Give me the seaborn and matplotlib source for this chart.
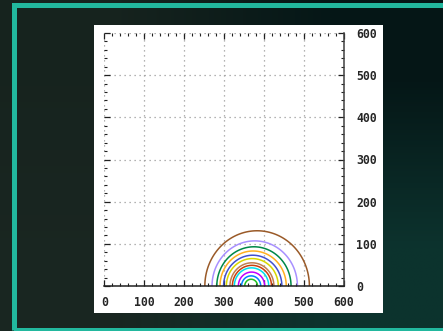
import matplotlib
matplotlib.use("Agg")

import matplotlib.pyplot as plt
import matplotlib.patches as mpatches
from matplotlib.ticker import MultipleLocator
import seaborn as sns
import pandas as pd
import numpy as np

# contour arcs, inner to outer: centre on the x axis, radius, colour
arc_centers = [368, 368, 369, 369, 370, 370, 371, 372, 373, 375, 377, 383]
arc_radii = [16, 24, 33, 43, 49, 55, 65, 73, 83, 93, 107, 131]
arc_colors = ["#20c020", "#0080ff", "#c000ff", "#00e0ee", "#c84010", "#c08050",
              "#d8d800", "#4050d0", "#ffb020", "#008848", "#a890ff", "#9a5a28"]
x_ticks = [0, 100, 200, 300, 400, 500, 600]
y_ticks = [0, 100, 200, 300, 400, 500, 600]

sns.set_style("white")
plt.rcParams["font.family"] = ["DejaVu Sans Mono", "DejaVu Sans"]

fig = plt.figure(figsize=(4.43, 3.31), dpi=100)

# dark backdrop with a soft gradient
bg = fig.add_axes([0, 0, 1, 1])
grad = np.array([[[0.09, 0.14, 0.12], [0.02, 0.09, 0.09]],
                 [[0.10, 0.15, 0.13], [0.05, 0.20, 0.18]]])
bg.imshow(grad, aspect="auto", interpolation="bilinear", extent=[0, 1, 0, 1])
bg.set_xlim(0, 1)
bg.set_ylim(0, 1)
bg.set_axis_off()

# teal frame
bg.add_patch(mpatches.Rectangle((13.5 / 443, 1.5 / 331), 1.2, 1 - 6 / 331,
                                fill=False, edgecolor="#22b89e", linewidth=3.6,
                                clip_on=False))
# white card behind the plot
bg.add_patch(mpatches.Rectangle((94 / 443, 1 - 313 / 331), 289 / 443, 288 / 331,
                                facecolor="white", edgecolor="none"))

ax = fig.add_axes([104.3 / 443, 1 - 286 / 331, 239.4 / 443, 253 / 331])
ax.set_facecolor("white")

rows = []
theta = np.linspace(0, np.pi, 90)
for i, (cx, r) in enumerate(zip(arc_centers, arc_radii)):
    for t in theta:
        rows.append({"arc": i, "x": cx + r * np.cos(t), "y": r * np.sin(t)})
df = pd.DataFrame(rows)

sns.lineplot(data=df, x="x", y="y", hue="arc", palette=arc_colors, sort=False,
             estimator=None, legend=False, linewidth=1.1, ax=ax)

ax.set_xlim(0, 600)
ax.set_ylim(0, 600)
ax.set_xticks(x_ticks)
ax.set_yticks(y_ticks)
ax.set_xticklabels([str(v) for v in x_ticks])
ax.set_yticklabels([str(v) for v in y_ticks])
ax.xaxis.set_minor_locator(MultipleLocator(20))
ax.yaxis.set_minor_locator(MultipleLocator(20))
ax.set_xlabel("")
ax.set_ylabel("")

ax.grid(True, which="major", color="#9a9a9a", linestyle=(0, (1, 3)), linewidth=0.9)
ax.tick_params(which="both", direction="in", top=True, bottom=True, left=True,
               right=True, labelleft=False, labelright=True, color="#202020")
ax.tick_params(which="major", length=4.5, width=0.9, pad=7, labelsize=8.3)
ax.tick_params(axis="y", which="major", pad=9)
ax.tick_params(which="minor", length=2.2, width=0.8)
for lab in ax.get_xticklabels() + ax.get_yticklabels():
    lab.set_fontweight("bold")

ax.spines["top"].set_visible(False)
ax.spines["left"].set_visible(False)
ax.spines["bottom"].set_color("#202020")
ax.spines["right"].set_color("#404040")
ax.spines["bottom"].set_linewidth(1.1)
ax.spines["right"].set_linewidth(1.1)

fig.savefig("out.png", dpi=100)
